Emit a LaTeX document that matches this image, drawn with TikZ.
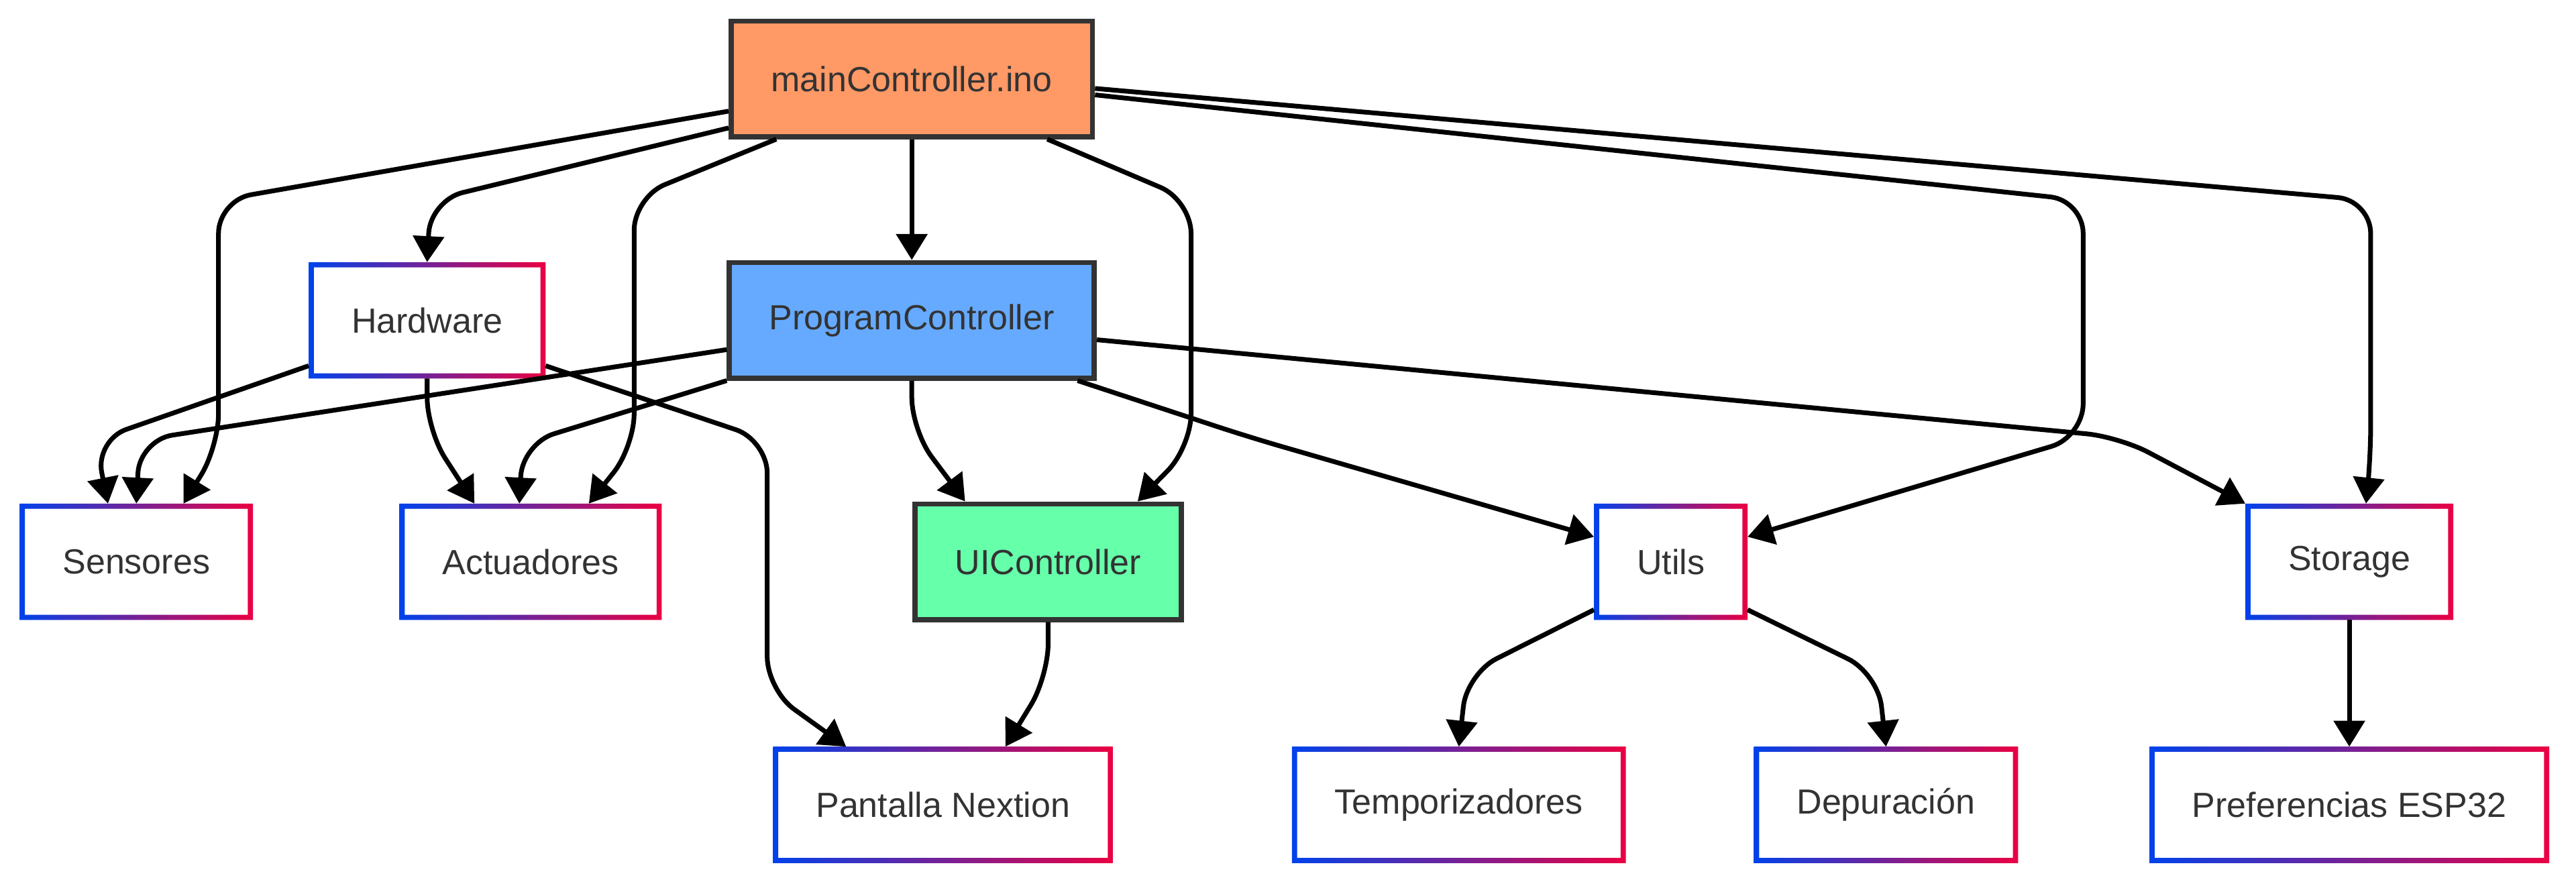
\documentclass[tikz,border=0pt]{standalone}
\usepackage{fontspec}
\setmainfont{Liberation Sans}
\usetikzlibrary{arrows.meta,positioning}
\definecolor{InkGray}{HTML}{333333}
\definecolor{MainOrange}{HTML}{FF9966}
\definecolor{CtrlBlue}{HTML}{66AAFF}
\definecolor{UiGreen}{HTML}{66FFAA}
\definecolor{RimBlue}{RGB}{0,66,235}
\definecolor{RimRed}{RGB}{235,0,66}

\begin{document}
\begin{tikzpicture}[x=0.245mm,y=-0.245mm,
  n/.style={rectangle,draw=InkGray,line width=2.2pt,minimum height=49pt,inner xsep=17pt,font=\fontsize{14.8}{18}\selectfont,text=InkGray},
  g/.style={rectangle,fill=white,minimum height=49pt,inner xsep=18pt,font=\fontsize{14.8}{18}\selectfont,text=InkGray},
  e/.style={-{Triangle[length=11pt,width=13pt]},line width=2pt,rounded corners=14pt}
]
  \useasboundingbox (0,0) rectangle (1568,539);
  % top two rows
  \node[n,fill=MainOrange] (main) at (555,48) {mainController.ino};
  \node[g] (hw) at (260,195) {Hardware};
  \node[n,fill=CtrlBlue] (pc) at (555,195) {ProgramController};
  % modules
  \node[g] (sens) at (83,342) {Sensores};
  \node[g] (act) at (323,342) {Actuadores};
  \node[n,fill=UiGreen] (ui) at (638,342) {UIController};
  \node[g] (utils) at (1017,342) {Utils};
  \node[g] (stor) at (1430,342) {Storage};
  % bottom row
  \node[g] (pan) at (574,490) {Pantalla Nextion};
  \node[g] (tempo) at (888,490) {Temporizadores};
  \node[g] (dep) at (1148,490) {Depuración};
  \node[g] (pref) at (1430,490) {Preferencias ESP32};
  % gradient rims
  \foreach \b in {hw,sens,act,utils,stor,pan,tempo,dep,pref}
    \shade[even odd rule,left color=RimBlue,right color=RimRed]
      (\b.south west) rectangle (\b.north east)
      ([xshift=2.2pt,yshift=2.2pt]\b.south west) rectangle ([xshift=-2.2pt,yshift=-2.2pt]\b.north east);

  \draw[e] (main.190) -- (133,122) -- (133,272) -- (sens.51);
  \draw[e] (main.195) -- (262,122) -- (hw.north);
  \draw[e] (main.204) -- (386,120) -- (386,272) -- (act.45);
  \draw[e] (main) -- (pc);
  \draw[e] (main.336) -- (725,122) -- (725,272) -- (ui.34);
  \draw[e] (main.355) -- (1268,122) -- (1268,266) -- (utils.18);
  \draw[e] (main.357) -- (1443,122) -- (1443,280) -- (stor.74);
  \draw[e] (hw.201) -- (58,268) -- (sens.116);
  \draw[e] (hw.south) -- (260,262) -- (act.134);
  \draw[e] (hw.339) -- (467,268) -- (467,420) -- (pan.149);
  \draw[e] (pc.189) -- (85,268) -- (sens.north);
  \draw[e] (pc.south west) -- (318,270) -- (act.101);
  \draw[e] (pc.south) -- (555,262) -- (ui.144);
  \draw[e] (pc.340) -- (760,266) -- (utils.162);
  \draw[e] (pc.354) -- (1290,266) -- (stor.north west);
  \draw[e] (ui.south) -- (638,412) -- (pan.43);
  \draw[e] (utils.212) -- (893,410) -- (tempo.north);
  \draw[e] (utils.328) -- (1143,410) -- (dep.north);
  \draw[e] (stor) -- (pref);
\end{tikzpicture}
\end{document}
